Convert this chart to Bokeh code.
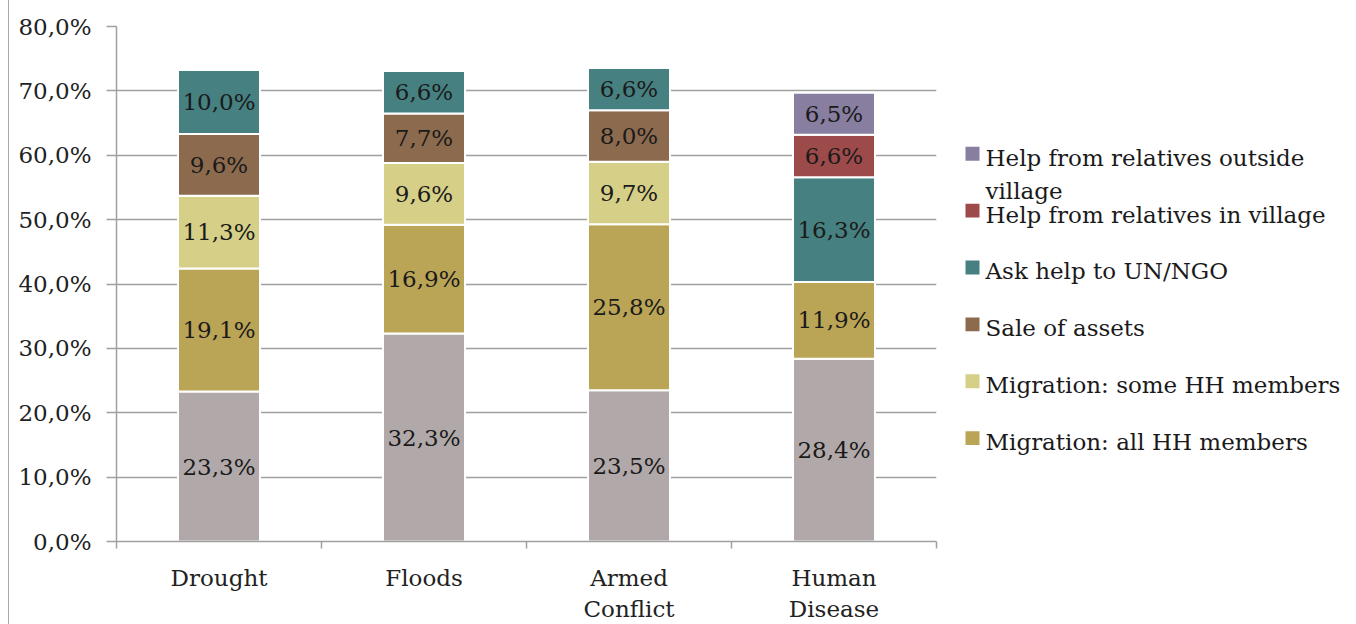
import numpy as np
from bokeh.plotting import figure
from bokeh.layouts import row
from bokeh.models import Range1d, FixedTicker, CustomJSTickFormatter, ColumnDataSource
from bokeh.core.properties import value
from bokeh.embed import file_html
from bokeh.resources import INLINE

# ---- data -------------------------------------------------------------
categories = ["Drought", "Floods", "Armed Conflict", "Human Disease"]
category_labels = ["Drought", "Floods", "Armed\nConflict", "Human\nDisease"]

other_strategies = [23.3, 32.3, 23.5, 28.4]
migration_all = [19.1, 16.9, 25.8, 11.9]
migration_some = [11.3, 9.6, 9.7, 0.0]
sale_of_assets = [9.6, 7.7, 8.0, 0.0]
help_un_ngo = [10.0, 6.6, 6.6, 16.3]
relatives_in_village = [0.0, 0.0, 0.0, 6.6]
relatives_outside = [0.0, 0.0, 0.0, 6.5]

series_keys = ["other", "mig_all", "mig_some", "sale", "un_ngo", "rel_in", "rel_out"]
series_values = [other_strategies, migration_all, migration_some, sale_of_assets,
                 help_un_ngo, relatives_in_village, relatives_outside]
series_colors = ["#b1a9a9", "#baa455", "#d5cf88", "#8c6a4e", "#468080", "#9c4a4a", "#877ea0"]

legend_labels = ["Help from relatives outside\nvillage", "Help from relatives in village",
                 "Ask help to UN/NGO", "Sale of assets", "Migration: some HH members",
                 "Migration: all HH members"]
legend_colors = ["#877ea0", "#9c4a4a", "#468080", "#8c6a4e", "#d5cf88", "#baa455"]

y_ticks = [0, 10, 20, 30, 40, 50, 60, 70, 80]

FONT = "DejaVu Serif"
GRID = "#a0a0a0"
TEXT = "#222222"
H, TOP, BOTTOM = 624, 26, 80

# ---- stacked bar chart ------------------------------------------------
xs = [i + 0.5 for i in range(len(categories))]
data = {"x": xs}
for k, v in zip(series_keys, series_values):
    data[k] = v
source = ColumnDataSource(data)

p = figure(width=937, height=H, x_range=Range1d(0, len(categories)),
           y_range=Range1d(0, 80), output_backend="svg", toolbar_location=None,
           min_border_left=107, min_border_right=10, min_border_top=TOP,
           min_border_bottom=BOTTOM, margin=(0, 0, 0, 8),
           styles={"border-left": "1px solid #a8a8a8"})
p.outline_line_color = None
p.background_fill_color = "white"

p.vbar_stack(series_keys, x="x", width=0.4, color=series_colors,
             line_color="white", line_width=2, source=source)

# value labels centred in each segment
lx, ly, lt = [], [], []
vals = np.array(series_values, dtype=float)
bottoms = np.vstack([np.zeros(vals.shape[1]), np.cumsum(vals, axis=0)[:-1]])
for s in range(vals.shape[0]):
    for c in range(vals.shape[1]):
        v = vals[s, c]
        if v > 0:
            lx.append(xs[c])
            ly.append(bottoms[s, c] + v / 2)
            lt.append(f"{v:.1f}".replace(".", ",") + "%")
p.text(x=lx, y=ly, text=lt, text_align="center", text_baseline="middle",
       text_font=value(FONT), text_font_size="23px", text_color="#1a1a1a")

# y axis
p.yaxis.ticker = FixedTicker(ticks=y_ticks, minor_ticks=[])
p.yaxis.formatter = CustomJSTickFormatter(code="return tick.toFixed(1).replace('.', ',') + '%';")
p.yaxis.major_label_text_font = FONT
p.yaxis.major_label_text_font_size = "23px"
p.yaxis.major_label_text_color = TEXT
p.yaxis.major_label_standoff = 15
p.yaxis.major_tick_out = 10
p.yaxis.major_tick_in = 0
p.yaxis.major_tick_line_color = GRID
p.yaxis.minor_tick_line_color = None
p.yaxis.axis_line_color = GRID
p.yaxis.major_tick_line_width = 1.5
p.yaxis.axis_line_width = 1.5

# x axis: labels at bar centres, short ticks at category boundaries
p.xaxis.ticker = FixedTicker(ticks=xs, minor_ticks=list(range(len(categories) + 1)))
p.xaxis.major_label_overrides = {x: lab for x, lab in zip(xs, category_labels)}
p.xaxis.major_label_text_font = FONT
p.xaxis.major_label_text_font_size = "23px"
p.xaxis.major_label_text_color = TEXT
p.xaxis.major_label_text_line_height = 1.2
p.xaxis.major_label_standoff = 16
p.xaxis.major_tick_out = 0
p.xaxis.major_tick_in = 0
p.xaxis.minor_tick_out = 7
p.xaxis.minor_tick_in = 0
p.xaxis.minor_tick_line_color = GRID
p.xaxis.minor_tick_line_width = 1.5
p.xaxis.axis_line_color = GRID
p.xaxis.axis_line_width = 1.5

p.xgrid.grid_line_color = None
p.ygrid.ticker = FixedTicker(ticks=y_ticks)
p.ygrid.grid_line_color = GRID
p.ygrid.grid_line_width = 1.5

# ---- legend panel (coordinates in page pixels) -------------------------
LW = 410
lg = figure(width=LW, height=H, x_range=Range1d(0, LW), y_range=Range1d(H - BOTTOM, TOP),
            output_backend="svg", toolbar_location=None,
            x_axis_location=None, y_axis_location=None,
            min_border_left=0, min_border_right=0,
            min_border_top=TOP, min_border_bottom=BOTTOM)
lg.grid.grid_line_color = None
lg.outline_line_color = None

first_y, step, line_gap = 158, 57.2, 33
sq_x, sq_size, txt_x = 27, 14, 40
sq_y, tx, ty, tt = [], [], [], []
for i, lab in enumerate(legend_labels):
    yc = first_y + i * step
    sq_y.append(yc - 4)
    for j, line in enumerate(lab.split("\n")):
        tx.append(txt_x)
        ty.append(yc + j * line_gap)
        tt.append(line)
lg.rect(x=[sq_x] * len(sq_y), y=sq_y, width=sq_size, height=sq_size,
        fill_color=legend_colors, line_color=None)
lg.text(x=tx, y=ty, text=tt, text_align="left", text_baseline="middle",
        text_font=value(FONT), text_font_size="23px", text_color="#1a1a1a")

layout = row(p, lg)
open("out.html", "w").write(file_html(layout, INLINE))
